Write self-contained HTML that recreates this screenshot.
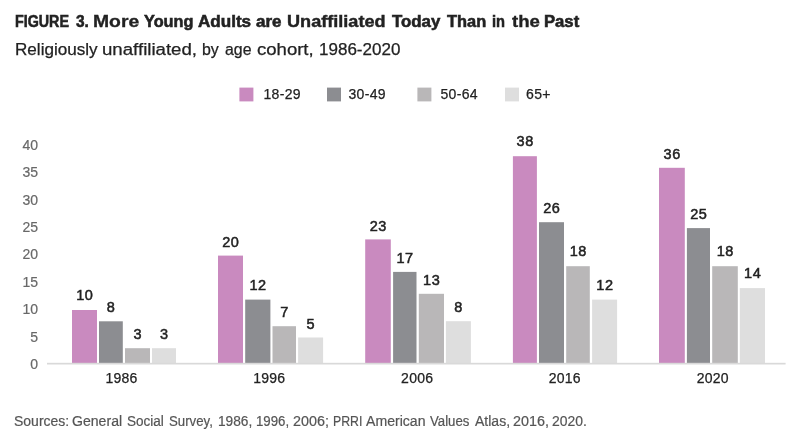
<!DOCTYPE html>
<html lang="en"><head><meta charset="utf-8"><title>Figure 3</title>
<style>
html,body{margin:0;padding:0;background:#fff;}
body{width:800px;height:440px;position:relative;overflow:hidden;font-family:"Liberation Sans",sans-serif;}
.t{position:absolute;white-space:nowrap;line-height:1;}
.w{position:absolute;top:0;left:0;transform-origin:0 0;white-space:nowrap;}
.title{font-weight:bold;color:#222;}
.sub{color:#222;}
.bar{position:absolute;}
.dl{position:absolute;white-space:nowrap;line-height:1;font-size:14.5px;color:#222;text-align:center;width:40px;-webkit-text-stroke:0.5px #222;letter-spacing:0.6px;text-indent:0.6px;}
.yl{position:absolute;white-space:nowrap;line-height:1;font-size:14px;color:#686868;text-align:right;width:30px;-webkit-text-stroke:0.2px #686868;}
.xl{position:absolute;white-space:nowrap;line-height:1;font-size:14px;color:#222;text-align:center;width:60px;-webkit-text-stroke:0.25px #222;}
.lg{position:absolute;white-space:nowrap;line-height:1;font-size:14px;color:#222;-webkit-text-stroke:0.25px #222;}
.sq{position:absolute;width:14px;height:14px;}
.src{color:#555;}
.axis{position:absolute;background:#d9d9d9;}
#chart{position:absolute;left:0;top:0;width:800px;height:440px;will-change:transform;}
svg{position:absolute;left:0;top:0;}
</style></head><body>
<div id="chart">
<svg width="800" height="440" viewBox="0 0 800 440">
<rect x="239.4" y="87.6" width="14" height="13.8" fill="#c98abf"/>
<rect x="327.0" y="87.6" width="14" height="13.8" fill="#8c8d91"/>
<rect x="417.4" y="87.6" width="14" height="13.8" fill="#b9b7b8"/>
<rect x="505.0" y="87.6" width="14" height="13.8" fill="#dedede"/>
<rect x="72" y="310" width="25" height="53.0" fill="#c98abf"/>
<rect x="99" y="321.3" width="23.8" height="41.7" fill="#8c8d91"/>
<rect x="125" y="348.2" width="25" height="14.8" fill="#b9b7b8"/>
<rect x="152" y="348.2" width="24" height="14.8" fill="#dedede"/>
<rect x="218" y="255.6" width="25" height="107.4" fill="#c98abf"/>
<rect x="245.2" y="299.6" width="25.2" height="63.4" fill="#8c8d91"/>
<rect x="272.5" y="326.2" width="23.5" height="36.8" fill="#b9b7b8"/>
<rect x="298.1" y="337.5" width="25.0" height="25.5" fill="#dedede"/>
<rect x="365.2" y="239.4" width="25.6" height="123.6" fill="#c98abf"/>
<rect x="393.1" y="271.9" width="23.4" height="91.1" fill="#8c8d91"/>
<rect x="418.8" y="293.8" width="25.2" height="69.2" fill="#b9b7b8"/>
<rect x="445.9" y="321.2" width="25.0" height="41.8" fill="#dedede"/>
<rect x="512.9" y="156.2" width="24.0" height="206.8" fill="#c98abf"/>
<rect x="539" y="222.2" width="25" height="140.8" fill="#8c8d91"/>
<rect x="566.2" y="266.2" width="23.6" height="96.8" fill="#b9b7b8"/>
<rect x="592.1" y="299.6" width="25.0" height="63.4" fill="#dedede"/>
<rect x="659" y="167.8" width="25.8" height="195.2" fill="#c98abf"/>
<rect x="686.9" y="228.1" width="23.1" height="134.9" fill="#8c8d91"/>
<rect x="712.2" y="266.2" width="25.6" height="96.8" fill="#b9b7b8"/>
<rect x="739.8" y="288.1" width="25.2" height="74.9" fill="#dedede"/>
<rect x="47" y="362.8" width="738.6" height="1.7" fill="#d9d9d9"/>
</svg>
<div class="t title" id="title" style="left:0;top:14px;font-size:16px;"><span class="w" style="left:15.34px;transform:scaleX(0.8921);-webkit-text-stroke:0.55px #222;">FIGURE</span> <span class="w" style="left:75.90px;transform:scaleX(0.9658);-webkit-text-stroke:0.55px #222;">3.</span> <span class="w" style="left:93.22px;transform:scaleX(1.2079);-webkit-text-stroke:0.30px #222;">More</span> <span class="w" style="left:143.50px;transform:scaleX(1.0152);-webkit-text-stroke:0.55px #222;">Young</span> <span class="w" style="left:197.89px;transform:scaleX(1.0670);-webkit-text-stroke:0.55px #222;">Adults</span> <span class="w" style="left:256.16px;transform:scaleX(1.0616);-webkit-text-stroke:0.55px #222;">are</span> <span class="w" style="left:287.49px;transform:scaleX(1.1312);-webkit-text-stroke:0.40px #222;">Unaffiliated</span> <span class="w" style="left:391.56px;transform:scaleX(1.0525);-webkit-text-stroke:0.55px #222;">Today</span> <span class="w" style="left:447.15px;transform:scaleX(1.0246);-webkit-text-stroke:0.55px #222;">Than</span> <span class="w" style="left:491.62px;transform:scaleX(0.9152);-webkit-text-stroke:0.55px #222;">in</span> <span class="w" style="left:511.50px;transform:scaleX(1.1622);-webkit-text-stroke:0.33px #222;">the</span> <span class="w" style="left:544.12px;transform:scaleX(1.0408);-webkit-text-stroke:0.55px #222;">Past</span></div>
<div class="t sub" id="sub" style="left:0;top:42px;font-size:16px;"><span class="w" style="left:14.97px;transform:scaleX(1.0680);-webkit-text-stroke:0.25px #222;">Religiously</span> <span class="w" style="left:102.48px;transform:scaleX(1.1654);-webkit-text-stroke:0.25px #222;">unaffiliated,</span> <span class="w" style="left:202.13px;transform:scaleX(0.9922);-webkit-text-stroke:0.25px #222;">by</span> <span class="w" style="left:225.10px;transform:scaleX(0.9912);-webkit-text-stroke:0.25px #222;">age</span> <span class="w" style="left:257.42px;transform:scaleX(1.1586);-webkit-text-stroke:0.25px #222;">cohort,</span> <span class="w" style="left:318.80px;transform:scaleX(1.0631);-webkit-text-stroke:0.25px #222;">1986-2020</span></div>
<div class="lg" id="lg0" style="left:263.5px;top:87px;letter-spacing:0.3px;">18-29</div>
<div class="lg" id="lg1" style="left:348.5px;top:87px;letter-spacing:0.3px;">30-49</div>
<div class="lg" id="lg2" style="left:440.5px;top:87px;letter-spacing:0.3px;">50-64</div>
<div class="lg" id="lg3" style="left:526.1px;top:87px;letter-spacing:0.3px;">65+</div>
<div class="yl" id="yl40" style="left:8px;top:138px;letter-spacing:0px;">40</div>
<div class="yl" id="yl35" style="left:8px;top:165px;letter-spacing:0px;">35</div>
<div class="yl" id="yl30" style="left:8px;top:193px;letter-spacing:0px;">30</div>
<div class="yl" id="yl25" style="left:8px;top:220px;letter-spacing:0px;">25</div>
<div class="yl" id="yl20" style="left:8px;top:247px;letter-spacing:0px;">20</div>
<div class="yl" id="yl15" style="left:8px;top:275px;letter-spacing:0px;">15</div>
<div class="yl" id="yl10" style="left:8px;top:302px;letter-spacing:0px;">10</div>
<div class="yl" id="yl5" style="left:8px;top:330px;letter-spacing:0px;">5</div>
<div class="yl" id="yl0" style="left:8px;top:357px;letter-spacing:0px;">0</div>
<div class="dl" id="dl00" style="left:64.5px;top:288px;">10</div>
<div class="dl" id="dl01" style="left:90.9px;top:300px;">8</div>
<div class="dl" id="dl02" style="left:117.5px;top:327px;">3</div>
<div class="dl" id="dl03" style="left:144.0px;top:327px;">3</div>
<div class="dl" id="dl10" style="left:210.5px;top:235px;">20</div>
<div class="dl" id="dl11" style="left:237.8px;top:278px;">12</div>
<div class="dl" id="dl12" style="left:264.2px;top:305px;">7</div>
<div class="dl" id="dl13" style="left:290.6px;top:317px;">5</div>
<div class="dl" id="dl20" style="left:358.0px;top:219px;">23</div>
<div class="dl" id="dl21" style="left:384.8px;top:251px;">17</div>
<div class="dl" id="dl22" style="left:411.4px;top:273px;">13</div>
<div class="dl" id="dl23" style="left:438.4px;top:300px;">8</div>
<div class="dl" id="dl30" style="left:504.9px;top:134px;">38</div>
<div class="dl" id="dl31" style="left:531.5px;top:201px;">26</div>
<div class="dl" id="dl32" style="left:558.0px;top:244px;">18</div>
<div class="dl" id="dl33" style="left:584.6px;top:278px;">12</div>
<div class="dl" id="dl40" style="left:651.9px;top:147px;">36</div>
<div class="dl" id="dl41" style="left:678.5px;top:207px;">25</div>
<div class="dl" id="dl42" style="left:705.0px;top:244px;">18</div>
<div class="dl" id="dl43" style="left:732.4px;top:266px;">14</div>
<div class="xl" id="xl0" style="left:91.5px;top:371px;letter-spacing:0.25px;">1986</div>
<div class="xl" id="xl1" style="left:239.3px;top:371px;letter-spacing:0.25px;">1996</div>
<div class="xl" id="xl2" style="left:387.2px;top:371px;letter-spacing:0.25px;">2006</div>
<div class="xl" id="xl3" style="left:534.8px;top:371px;letter-spacing:0.25px;">2016</div>
<div class="xl" id="xl4" style="left:682.8px;top:371px;letter-spacing:0.25px;">2020</div>
<div class="t src" id="src" style="left:0;top:414px;font-size:14px;"><span class="w" style="left:14.48px;transform:scaleX(0.9986);-webkit-text-stroke:0.20px #555;">Sources:</span> <span class="w" style="left:72.35px;transform:scaleX(1.0057);-webkit-text-stroke:0.20px #555;">General</span> <span class="w" style="left:126.89px;transform:scaleX(0.9667);-webkit-text-stroke:0.20px #555;">Social</span> <span class="w" style="left:168.50px;transform:scaleX(0.9441);-webkit-text-stroke:0.20px #555;">Survey,</span> <span class="w" style="left:217.50px;transform:scaleX(0.9779);-webkit-text-stroke:0.20px #555;">1986,</span> <span class="w" style="left:256.03px;transform:scaleX(0.9444);-webkit-text-stroke:0.20px #555;">1996,</span> <span class="w" style="left:293.33px;transform:scaleX(1.0241);-webkit-text-stroke:0.20px #555;">2006;</span> <span class="w" style="left:333.10px;transform:scaleX(0.8782);-webkit-text-stroke:0.20px #555;">PRRI</span> <span class="w" style="left:365.70px;transform:scaleX(1.0060);-webkit-text-stroke:0.20px #555;">American</span> <span class="w" style="left:429.98px;transform:scaleX(0.9437);-webkit-text-stroke:0.20px #555;">Values</span> <span class="w" style="left:475.10px;transform:scaleX(1.0015);-webkit-text-stroke:0.20px #555;">Atlas,</span> <span class="w" style="left:513.33px;transform:scaleX(1.0241);-webkit-text-stroke:0.20px #555;">2016,</span> <span class="w" style="left:552.35px;transform:scaleX(0.9940);-webkit-text-stroke:0.20px #555;">2020.</span></div>
</div>
</body></html>
